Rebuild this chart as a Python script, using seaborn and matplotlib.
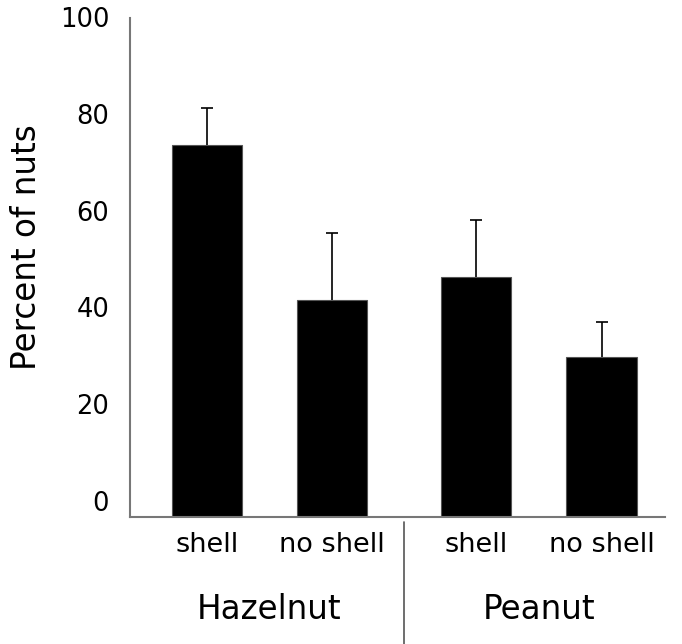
import matplotlib
matplotlib.use("Agg")
import matplotlib.pyplot as plt
import matplotlib.transforms as mtransforms
import seaborn as sns
import pandas as pd
import numpy as np

nuts = ["Hazelnut", "Hazelnut", "Peanut", "Peanut"]
shell = ["shell", "no shell", "shell", "no shell"]
percent = [74.5, 43.5, 48.0, 32.0]
err_upper = [82.0, 57.0, 59.5, 39.0]
y_ticks = [0, 20, 40, 60, 80, 100]

df = pd.DataFrame({"nut": nuts, "shell": shell, "percent": percent})

sns.set_theme(style="white")
plt.rcParams['font.family'] = ['DejaVu Sans']
plt.rcParams['text.color'] = 'black'
plt.rcParams['axes.labelcolor'] = 'black'
plt.rcParams['xtick.color'] = 'black'
plt.rcParams['ytick.color'] = 'black'

fig = plt.figure(figsize=(6.82, 6.44), dpi=100)
ax = fig.add_axes([130/682, 1-517/644, (665-130)/682, (517-18)/644])

sns.barplot(data=df, x="nut", y="percent", hue="shell", hue_order=["shell", "no shell"],
            palette=["black", "black"], width=0.93, gap=0.44, errorbar=None,
            edgecolor="#555555", linewidth=0.8, legend=False, ax=ax)

# bar centres from the patches seaborn drew, ordered by x
bars = sorted([p for p in ax.patches if p.get_height() > 0], key=lambda p: p.get_x())
centres = [p.get_x() + p.get_width() / 2 for p in bars]
heights = [p.get_height() for p in bars]
ups = [u - h for u, h in zip(err_upper, heights)]
eb = ax.errorbar(centres, heights, yerr=[np.zeros(len(ups)), ups], fmt="none",
                 ecolor="black", elinewidth=1.2, capsize=4, capthick=1.2)
caplines = eb[1]
if len(caplines) == 2:
    caplines[0].set_visible(False)
    caplines[1].set_color("#444444")

ax.set_xlim(-0.518, 1.468)
ax.set_ylim(0, 100)
ax.set_yticks(y_ticks)
ax.set_yticklabels([str(t) for t in y_ticks], fontsize=18.5)
ax.tick_params(axis="y", length=0, pad=15)
for t, lab in zip(y_ticks, ax.get_yticklabels()):
    shift = (16 - 15 * t / 100) / 100
    off = mtransforms.ScaledTranslation(0, shift, fig.dpi_scale_trans)
    lab.set_transform(lab.get_transform() + off)

ax.set_xticks(centres)
ax.set_xticklabels(shell, fontsize=19.5)
ax.tick_params(axis="x", length=0, pad=11)
ax.set_xlabel("")
ax.set_ylabel("Percent of nuts", fontsize=23.5)
ax.yaxis.set_label_coords(-0.163, 0.541)

for s in ["top", "right"]:
    ax.spines[s].set_visible(False)
for s in ["left", "bottom"]:
    ax.spines[s].set_color("#777777")
    ax.spines[s].set_linewidth(1.5)

trans = mtransforms.blended_transform_factory(ax.transData, ax.transAxes)
for i, g in enumerate(["Hazelnut", "Peanut"]):
    ax.text(i, -0.185, g, transform=trans, ha="center", va="center", fontsize=23.5)
ax.plot([0.5, 0.5], [-0.01, -0.26], transform=trans, color="#555555",
        linewidth=1.2, clip_on=False)

fig.savefig("out.png", dpi=100)
